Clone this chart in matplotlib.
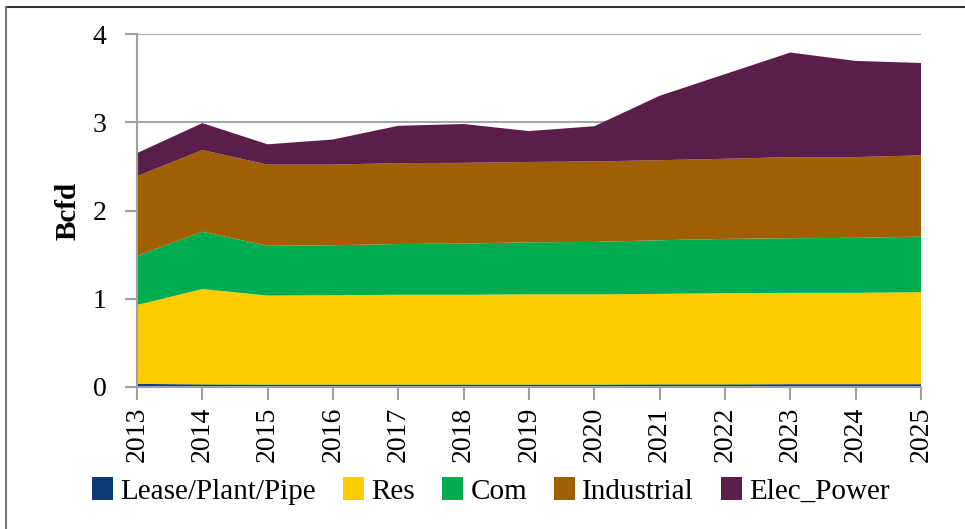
import matplotlib
matplotlib.use("Agg")
import matplotlib.pyplot as plt
from matplotlib.lines import Line2D
from matplotlib.patches import Patch

years = [2013, 2014, 2015, 2016, 2017, 2018, 2019, 2020, 2021, 2022, 2023, 2024, 2025]
lease = [0.035, 0.03, 0.028, 0.028, 0.028, 0.028, 0.028, 0.028, 0.03, 0.03, 0.032, 0.032, 0.032]
res = [0.895, 1.08, 1.008, 1.012, 1.017, 1.017, 1.022, 1.022, 1.025, 1.033, 1.035, 1.035, 1.043]
com = [0.555, 0.65, 0.564, 0.566, 0.575, 0.58, 0.59, 0.594, 0.608, 0.615, 0.619, 0.623, 0.629]
industrial = [0.905, 0.925, 0.92, 0.914, 0.917, 0.915, 0.91, 0.912, 0.907, 0.908, 0.919, 0.915, 0.921]
elec_power = [0.26, 0.305, 0.23, 0.285, 0.423, 0.44, 0.35, 0.399, 0.73, 0.959, 1.185, 1.09, 1.047]
series_names = ["Lease/Plant/Pipe", "Res", "Com", "Industrial", "Elec_Power"]
colors = ["#0B3A7A", "#FFCC00", "#00AC50", "#A05F00", "#5B1E4B"]

plt.rcParams['font.family'] = ['Liberation Serif', 'DejaVu Serif']
FS_TICK = 20
FS_LEG = 21

W, H = 965, 529
fig = plt.figure(figsize=(W / 100, H / 100), dpi=100)
ax = fig.add_axes([137 / W, 1 - 387 / H, (921 - 137) / W, (387 - 34) / H])

ax.stackplot(years, lease, res, com, industrial, elec_power, colors=colors,
             labels=series_names, linewidth=0.4)

ax.set_xlim(2013, 2025)
ax.set_ylim(0, 4)
ax.set_yticks([0, 1, 2, 3, 4])
ax.set_xticks(years)
ax.set_xticklabels([str(y) for y in years], rotation=90)
ax.set_axisbelow(True)
ax.yaxis.grid(True, color="#a6a6a6", linewidth=1.5)
for s in ["top", "right"]:
    ax.spines[s].set_visible(False)
for s in ["left", "bottom"]:
    ax.spines[s].set_color("#a0a0a0")
    ax.spines[s].set_linewidth(1.5)
ax.tick_params(axis="both", colors="#a0a0a0", length=9, width=1.5, labelsize=FS_TICK,
               labelcolor="black")
ax.tick_params(axis="y", pad=13)
ax.tick_params(axis="x", pad=5)
ax.set_ylabel("Bcfd", fontsize=FS_LEG, fontweight="bold")
ax.yaxis.set_label_coords((82 - 137) / (921 - 137), 0.5)

handles = [Patch(facecolor=c, edgecolor='none') for c in colors]
fig.legend(handles, series_names, loc="center left", bbox_to_anchor=(92 / W, 1 - 491 / H),
           ncol=5, frameon=False, fontsize=FS_LEG, handlelength=0.72, handleheight=0.85,
           handletextpad=0.25, columnspacing=0.93, borderpad=0, borderaxespad=0)

# partial outer frame (top and left)
fig.add_artist(Line2D([6 / W, 1.0], [1 - 7 / H, 1 - 7 / H], color="#333333", linewidth=1.5,
                      transform=fig.transFigure))
fig.add_artist(Line2D([6 / W, 6 / W], [1 - 7 / H, 0.0], color="#777777", linewidth=1.5,
                      transform=fig.transFigure))

fig.savefig("out.png", dpi=100)
